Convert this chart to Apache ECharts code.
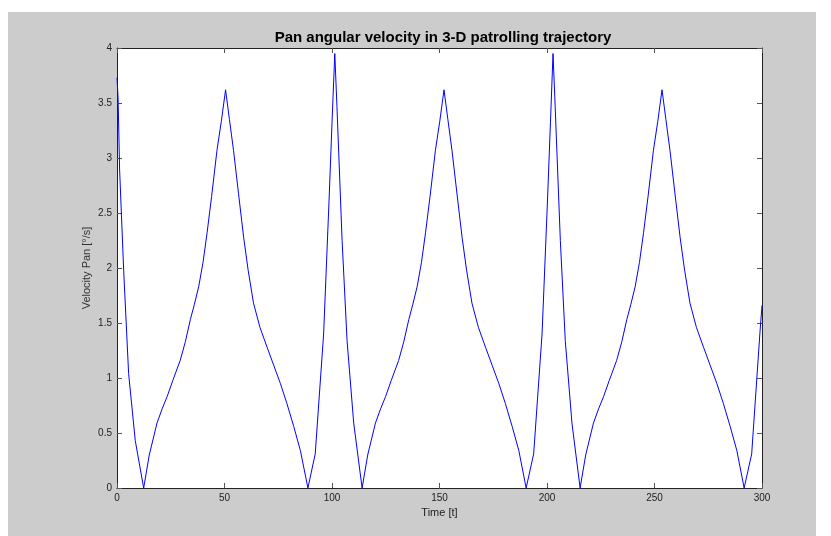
<!DOCTYPE html>
<html>
<head>
<meta charset="utf-8">
<title>Pan angular velocity</title>
<script src="https://cdn.jsdelivr.net/npm/echarts@6/dist/echarts.min.js"></script>
<style>
  html, body { margin: 0; padding: 0; background: #fff; }
  #chart { width: 831px; height: 536px; }
</style>
</head>
<body>
<div id="chart"></div>
<script>
// time [t] and pan velocity [deg/s]
var time = [
  0, 0.5, 1.2, 3.1, 5.4, 8.5, 12.4,
  15, 18.6, 21, 23.3, 26, 29.4, 31.8, 34.1, 36, 38, 40, 41.9, 44, 46.5, 48.5, 50.5,
  52.3, 54.2, 56.5, 58.9, 61, 63.5, 66.5, 69.8, 73, 76, 79, 82.2, 85.3, 88.8,
  92.2, 96.1, 98.6, 100, 101.3,
  102.3, 104.7, 107, 110.1, 114,
  116.6, 120.2, 122.6, 124.9, 127.6, 131, 133.4, 135.7, 137.6, 139.6, 141.6, 143.5, 145.6, 148.1, 150.1, 152.1,
  153.9, 155.8, 158.1, 160.5, 162.6, 165.1, 168.1, 171.4, 174.6, 177.6, 180.6, 183.8, 186.9, 190.3,
  193.8, 197.7, 200.2, 201.6, 202.8,
  203.8, 206.2, 208.5, 211.6, 215.4,
  218, 221.6, 224, 226.3, 229, 232.4, 234.8, 237.1, 239, 241, 243, 244.9, 247, 249.5, 251.5, 253.5,
  255.3, 257.2, 259.5, 261.9, 264, 266.5, 269.5, 272.8, 276, 279, 282, 285.2, 288.3, 291.7,
  295.2, 299, 300
];
var velocity = [
  3.73, 3.55, 2.9, 1.98, 1.04, 0.43, 0,
  0.3, 0.59, 0.72, 0.83, 0.98, 1.16, 1.33, 1.53, 1.67, 1.83, 2.05, 2.32, 2.65, 3.07, 3.33, 3.62,
  3.35, 3.07, 2.68, 2.28, 1.98, 1.68, 1.46, 1.28, 1.11, 0.95, 0.77, 0.56, 0.34, 0,
  0.31, 1.4, 2.6, 3.32, 3.95,
  3.47, 2.25, 1.34, 0.59, 0,
  0.3, 0.59, 0.72, 0.83, 0.98, 1.16, 1.33, 1.53, 1.67, 1.83, 2.05, 2.32, 2.65, 3.07, 3.33, 3.62,
  3.35, 3.07, 2.68, 2.28, 1.98, 1.68, 1.46, 1.28, 1.11, 0.95, 0.77, 0.56, 0.34, 0,
  0.31, 1.4, 2.6, 3.32, 3.95,
  3.47, 2.25, 1.34, 0.59, 0,
  0.3, 0.59, 0.72, 0.83, 0.98, 1.16, 1.33, 1.53, 1.67, 1.83, 2.05, 2.32, 2.65, 3.07, 3.33, 3.62,
  3.35, 3.07, 2.68, 2.28, 1.98, 1.68, 1.46, 1.28, 1.11, 0.95, 0.77, 0.56, 0.34, 0,
  0.31, 1.4, 1.66
];
var xRange = [0, 300], xStep = 50;
var yRange = [0, 4], yStep = 0.5;

var pairs = [];
for (var i = 0; i < time.length; i++) {
  pairs.push([time[i], velocity[i]]);
}

var chart = echarts.init(document.getElementById('chart'));

var font = 'Liberation Sans, Arial, sans-serif';
var tick = { show: true, inside: true, length: 5, lineStyle: { color: '#555', width: 1 } };
var line = { show: true, onZero: false, lineStyle: { color: '#222', width: 1 } };

var option = {
  backgroundColor: '#fff',
  animation: false,
  title: {
    text: 'Pan angular velocity in 3-D patrolling trajectory',
    left: 438,
    top: 25,
    textAlign: 'center',
    textStyle: { fontFamily: font, fontSize: 15, fontWeight: 'bold', color: '#000' }
  },
  graphic: [
    {
      type: 'rect',
      z: -100,
      shape: { x: 8, y: 12, width: 808, height: 524 },
      style: { fill: '#cccccc' }
    }
  ],
  grid: {
    left: 117, top: 48, right: 69, bottom: 48,
    show: true, backgroundColor: '#fff', borderWidth: 0
  },
  xAxis: [
    {
      type: 'value', min: xRange[0], max: xRange[1], interval: xStep,
      name: 'Time [t]', nameLocation: 'middle', nameGap: 19,
      nameTextStyle: { fontFamily: font, fontSize: 11, color: '#222' },
      axisLine: line, axisTick: tick,
      axisLabel: { fontFamily: font, fontSize: 10, color: '#222', margin: 5 },
      splitLine: { show: false }
    },
    {
      type: 'value', position: 'top', min: xRange[0], max: xRange[1], interval: xStep,
      axisLine: line, axisTick: tick, axisLabel: { show: false }, splitLine: { show: false }
    }
  ],
  yAxis: [
    {
      type: 'value', min: yRange[0], max: yRange[1], interval: yStep,
      name: 'Velocity Pan [\u00b0/s]', nameLocation: 'middle', nameGap: 25,
      nameMoveOverlap: false,
      nameTextStyle: { fontFamily: font, fontSize: 11, color: '#333' },
      axisLine: line, axisTick: tick,
      axisLabel: { fontFamily: font, fontSize: 10, color: '#222', margin: 5 },
      splitLine: { show: false }
    },
    {
      type: 'value', position: 'right', min: yRange[0], max: yRange[1], interval: yStep,
      axisLine: line, axisTick: tick, axisLabel: { show: false }, splitLine: { show: false }
    }
  ],
  series: [
    {
      name: 'Velocity Pan',
      type: 'line',
      data: pairs,
      showSymbol: false,
      symbol: 'none',
      lineStyle: { color: '#0000ff', width: 1 }
    }
  ]
};
chart.setOption(option);
</script>
</body>
</html>
